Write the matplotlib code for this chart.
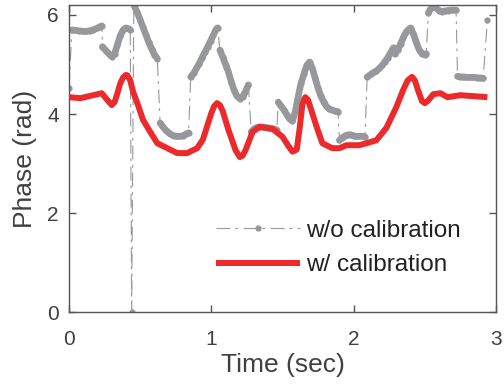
import matplotlib.pyplot as plt

plt.rcParams['font.family'] = ['Liberation Sans', 'DejaVu Sans']
plt.rcParams['lines.scale_dashes'] = False

# w/ calibration (red)
red_t = [0.00, 0.08, 0.17, 0.23, 0.27, 0.30, 0.32, 0.34, 0.36, 0.38, 0.40, 0.41, 0.43, 0.45,
         0.48, 0.52, 0.57, 0.62, 0.69, 0.76, 0.83, 0.90, 0.94, 0.97, 1.00,
         1.02, 1.04, 1.06, 1.08, 1.12, 1.17, 1.20, 1.22, 1.24, 1.29, 1.34, 1.43, 1.50,
         1.54, 1.57, 1.60, 1.62, 1.64, 1.66, 1.68, 1.70, 1.74, 1.78, 1.85, 1.90, 1.95, 2.04,
         2.09, 2.16, 2.23, 2.30, 2.35, 2.38, 2.41, 2.43, 2.45, 2.48, 2.50, 2.52, 2.56,
         2.61, 2.66, 2.75, 2.94]
red_v = [4.34, 4.32, 4.38, 4.42, 4.28, 4.18, 4.24, 4.42, 4.62, 4.74, 4.79, 4.78, 4.68, 4.45,
         4.22, 3.88, 3.64, 3.41, 3.31, 3.21, 3.21, 3.31, 3.48, 3.75, 4.02,
         4.16, 4.22, 4.18, 4.06, 3.68, 3.27, 3.13, 3.16, 3.27, 3.64, 3.74, 3.70, 3.54,
         3.36, 3.24, 3.28, 3.70, 4.20, 4.34, 4.28, 4.10, 3.74, 3.41, 3.31, 3.31, 3.37, 3.37,
         3.41, 3.47, 3.72, 4.14, 4.50, 4.68, 4.75, 4.68, 4.50, 4.26, 4.22, 4.26, 4.40,
         4.42, 4.34, 4.38, 4.34]

# w/o calibration (gray), wrapped phase, one list per unbroken piece
gray_segments = [
    ([0.00], [4.53]),
    ([0.02, 0.045, 0.07, 0.095, 0.12, 0.145, 0.17, 0.195, 0.215, 0.23],
     [5.70, 5.69, 5.68, 5.67, 5.67, 5.68, 5.70, 5.73, 5.76, 5.78]),
    ([0.235, 0.26, 0.285, 0.30, 0.32, 0.34, 0.36, 0.38, 0.40, 0.42, 0.43],
     [5.36, 5.28, 5.20, 5.16, 5.22, 5.40, 5.58, 5.70, 5.74, 5.72, 5.70]),
    ([0.44], [0.00]),
    ([0.455, 0.48, 0.50, 0.52, 0.54, 0.56, 0.58, 0.60, 0.62],
     [6.20, 6.05, 5.90, 5.75, 5.60, 5.45, 5.32, 5.20, 5.12]),
    ([0.64, 0.66, 0.68, 0.70, 0.72, 0.74, 0.76, 0.78, 0.80, 0.82, 0.84],
     [3.82, 3.74, 3.67, 3.62, 3.58, 3.56, 3.55, 3.55, 3.56, 3.59, 3.62]),
    ([0.855, 0.875, 0.895, 0.915, 0.935, 0.955, 0.975, 0.995, 1.015, 1.035, 1.045],
     [4.75, 4.82, 4.92, 5.02, 5.14, 5.25, 5.36, 5.48, 5.60, 5.72, 5.74]),
    ([1.06, 1.08, 1.10, 1.12, 1.14, 1.16, 1.18, 1.20, 1.22, 1.24, 1.26],
     [5.29, 5.15, 5.00, 4.85, 4.65, 4.48, 4.36, 4.31, 4.35, 4.45, 4.59]),
    ([1.28, 1.30, 1.32, 1.34, 1.36, 1.38, 1.40, 1.42, 1.44, 1.46],
     [3.64, 3.70, 3.73, 3.74, 3.74, 3.73, 3.72, 3.71, 3.70, 3.68]),
    ([1.47, 1.49, 1.51, 1.53, 1.55, 1.57, 1.59, 1.61, 1.63, 1.65, 1.67,
      1.69, 1.71, 1.73, 1.75, 1.77, 1.79, 1.81, 1.83, 1.85, 1.87, 1.89],
     [4.24, 4.16, 4.08, 3.99, 3.90, 3.86, 4.05, 4.35, 4.62, 4.80, 4.98,
      5.05, 4.92, 4.72, 4.52, 4.36, 4.24, 4.15, 4.10, 4.08, 4.06, 4.05]),
    ([1.90, 1.92, 1.94, 1.96, 1.98, 2.00, 2.02, 2.04, 2.06, 2.08],
     [3.47, 3.52, 3.56, 3.58, 3.58, 3.56, 3.55, 3.55, 3.55, 3.54]),
    ([2.095, 2.12, 2.14, 2.16, 2.18, 2.20, 2.22, 2.24, 2.26, 2.28, 2.29,
      2.31, 2.33, 2.35, 2.37, 2.39, 2.40, 2.42, 2.44, 2.46, 2.48, 2.50, 2.51],
     [4.75, 4.80, 4.84, 4.87, 4.92, 4.98, 5.06, 5.14, 5.24, 5.34, 5.22,
      5.30, 5.42, 5.55, 5.66, 5.72, 5.74, 5.62, 5.45, 5.30, 5.22, 5.20, 5.22]),
    ([2.525, 2.54, 2.56, 2.58, 2.60, 2.62, 2.64, 2.66, 2.68, 2.70, 2.72],
     [6.04, 6.12, 6.16, 6.14, 6.09, 6.07, 6.08, 6.09, 6.10, 6.10, 6.10]),
    ([2.73, 2.75, 2.77, 2.79, 2.81, 2.83, 2.85, 2.87, 2.89, 2.91],
     [4.76, 4.75, 4.75, 4.74, 4.74, 4.74, 4.74, 4.73, 4.73, 4.72]),
    ([2.94], [5.90]),
]

x_ticks = [0, 1, 2, 3]
y_ticks = [0, 2, 4, 6]

gray_t = [t for seg in gray_segments for t in seg[0]]
gray_v = [v for seg in gray_segments for v in seg[1]]

axis_col = '#555555'
text_col = '#404040'
gray_col = '#97989c'

fig = plt.figure(figsize=(5.04, 3.92), dpi=100)
ax = fig.add_axes([0.137, 0.204, 0.847, 0.783])

# thin dash-dot through every sample, dense dots make the pieces look thick
ax.plot(gray_t, gray_v, color=gray_col, lw=0.8, linestyle=(0, (10, 3.5, 2, 4)),
        marker='o', markersize=4.5, markeredgewidth=0, label='w/o calibration', zorder=2)
for seg_t, seg_v in gray_segments:
    if len(seg_t) > 1:
        ax.plot(seg_t, seg_v, color=gray_col, lw=4.8, solid_capstyle='round',
                solid_joinstyle='round', zorder=2)

ax.plot(red_t, red_v, color='#ec2a2c', lw=4.3, label='w/ calibration', zorder=3,
        solid_capstyle='butt', solid_joinstyle='round')

ax.set_xlim(0, 3)
ax.set_ylim(0, 6.2)
ax.set_xticks(x_ticks)
ax.set_yticks(y_ticks)
ax.tick_params(direction='in', length=5, width=1, color=axis_col, labelcolor=text_col,
               labelsize=15, top=True, right=True)
ax.tick_params(axis='x', pad=13)
ax.tick_params(axis='y', pad=7.5)
for s in ax.spines.values():
    s.set_color(axis_col)
    s.set_linewidth(1)

ax.set_xlabel('Time (sec)', fontsize=19, color=text_col, labelpad=2.5)
ax.set_ylabel('Phase (rad)', fontsize=19, color=text_col, labelpad=7)

leg = ax.legend(loc='upper left', bbox_to_anchor=(0.345, 0.30), frameon=False,
                fontsize=17.5, handlelength=3.45, handletextpad=0.25,
                borderpad=0, borderaxespad=0, labelspacing=0.5)
for t in leg.get_texts():
    t.set_color('#222222')

fig.savefig('out.png', dpi=100)
